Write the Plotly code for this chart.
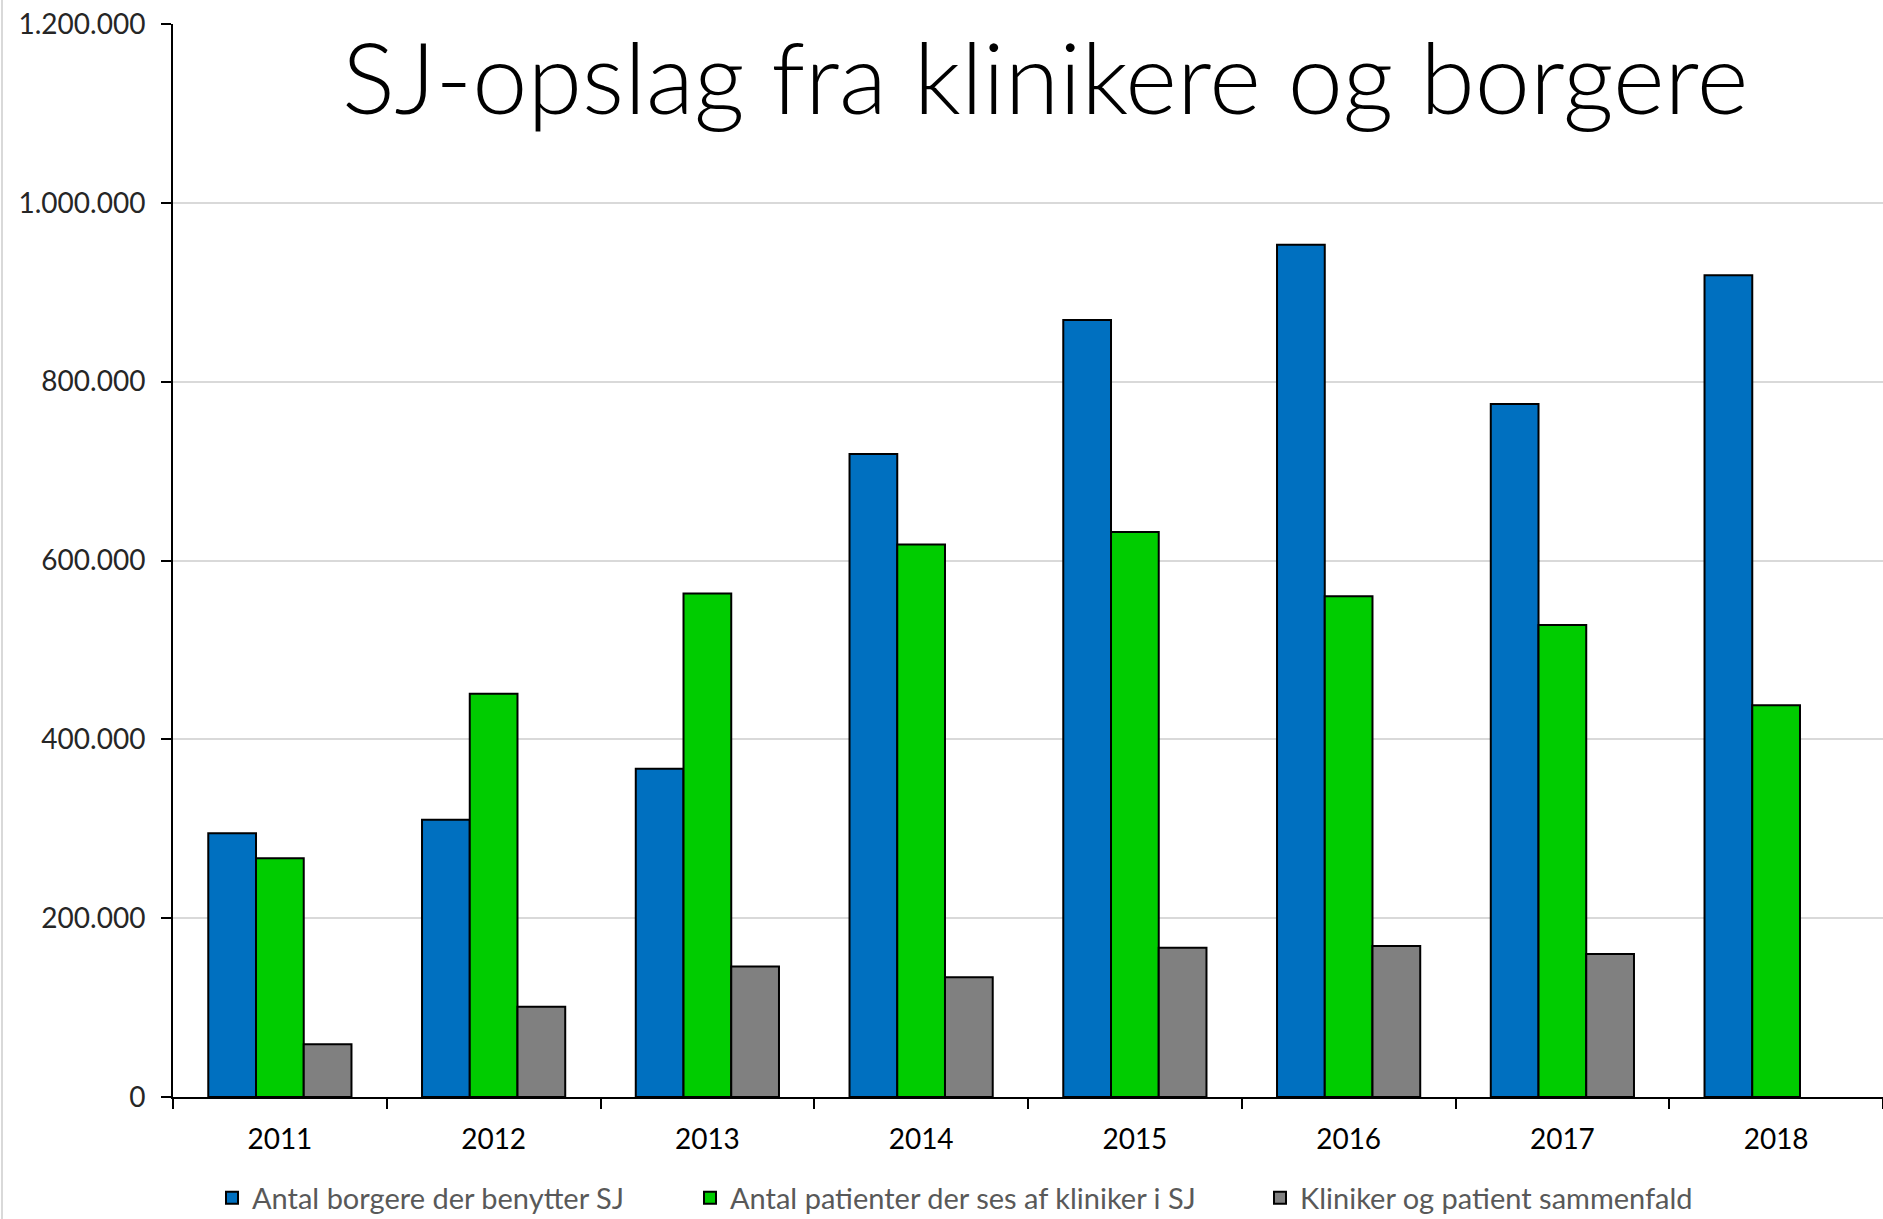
import plotly.graph_objects as go

years = ["2011", "2012", "2013", "2014", "2015", "2016", "2017", "2018"]
borgere = [295000, 310000, 367000, 719000, 869000, 953000, 775000, 919000]
patienter = [267000, 451000, 563000, 618000, 632000, 560000, 528000, 438000]
sammenfald = [59000, 101000, 146000, 134000, 167000, 169000, 160000, None]

series_names = [
    "Antal borgere der benytter SJ",
    "Antal patienter der ses af kliniker i SJ",
    "Kliniker og patient sammenfald",
]
series_colors = ["#0070C0", "#00CC00", "#808080"]
y_ticks = [0, 200000, 400000, 600000, 800000, 1000000, 1200000]
title_text = "SJ-opslag fra klinikere og borgere"

W, H = 1883, 1219
ml, mr, mt, mb = 173, 0, 24, 122
plot_w = W - ml - mr

font_family = "Lato, Open Sans, sans-serif"

# legend text start positions (pixels from the left of the figure)
legend_text_px = [252, 730, 1300]
legend_ids = ["legend", "legend2", "legend3"]

fig = go.Figure()
for name, vals, col, lid in zip(series_names, [borgere, patienter, sammenfald], series_colors, legend_ids):
    fig.add_trace(go.Bar(
        x=years, y=vals, name=name, legend=lid,
        marker=dict(color=col, line=dict(color="#000000", width=2)),
    ))

legend_common = dict(
    orientation="h", xanchor="left", xref="container",
    yref="container", y=1 - 1198 / H, yanchor="middle",
    font=dict(family=font_family, size=29, color="#595959"),
    bgcolor="rgba(0,0,0,0)", borderwidth=0, itemwidth=30,
)
legend_layout = {}
for lid, tx in zip(legend_ids, legend_text_px):
    legend_layout[lid] = dict(legend_common, x=(tx - 40) / W)

fig.update_layout(
    width=W, height=H,
    margin=dict(l=ml, r=mr, t=mt, b=mb, pad=0, autoexpand=False),
    paper_bgcolor="white", plot_bgcolor="white",
    barmode="group", bargap=0.33, bargroupgap=0,
    separators=",.",
    font=dict(family=font_family, size=28, color="#262626"),
    showlegend=True,
    annotations=[dict(
        text=title_text, xref="paper", yref="paper", x=0.51, y=0.952,
        xanchor="center", yanchor="middle", showarrow=False,
        font=dict(family=font_family, size=99, color="#000000", weight=300),
    )],
    shapes=[dict(
        type="line", xref="paper", yref="paper",
        x0=-0.1, x1=-0.1, y0=-0.12, y1=1.03,
        line=dict(color="#D9D9D9", width=2),
    )],
    **legend_layout,
)

fig.update_xaxes(
    type="category", range=[-0.5, 7.5],
    showline=True, linecolor="#000000", linewidth=2,
    ticks="outside", tickson="boundaries", ticklen=10, tickwidth=2, tickcolor="#000000",
    showgrid=False,
    ticklabelstandoff=16,
    tickfont=dict(family=font_family, size=28, color="#000000"),
)
fig.update_yaxes(
    range=[0, 1200000], tickvals=y_ticks, tickformat=",d",
    showline=True, linecolor="#000000", linewidth=2,
    ticks="outside", ticklen=10, tickwidth=2, tickcolor="#000000",
    showgrid=True, gridcolor="#D9D9D9", gridwidth=2,
    zeroline=False,
    ticklabelstandoff=10,
    tickfont=dict(family=font_family, size=28, color="#262626"),
)

fig.write_html(
    "out.html",
    config={"displayModeBar": False},
    post_script="document.body.style.margin='0';document.body.style.overflow='hidden';",
)
